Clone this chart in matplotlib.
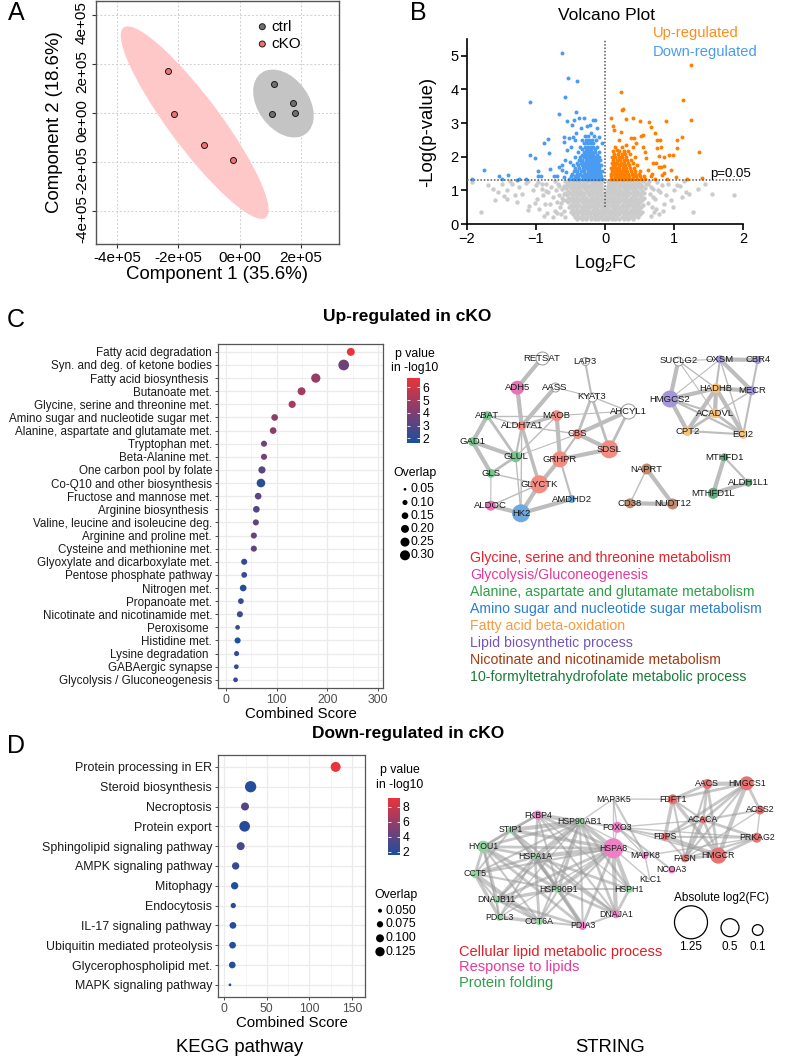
import numpy as np
import matplotlib
matplotlib.use('Agg')
import matplotlib.pyplot as plt
import matplotlib.transforms as mtrans
from matplotlib.patches import Ellipse
from matplotlib.collections import LineCollection
from matplotlib.colors import LinearSegmentedColormap, Normalize
from matplotlib.cm import ScalarMappable

plt.rcParams['font.family'] = ['Liberation Sans', 'DejaVu Sans']
plt.rcParams['mathtext.default'] = 'regular'

# ---------------------------------------------------------------- data
# A: PCA scores
ctrl_pc1 = [1.11e5, 1.73e5, 1.82e5, 1.05e5]
ctrl_pc2 = [1.18e5, 0.38e5, 0.00e5, -0.04e5]
cko_pc1 = [-2.35e5, -2.16e5, -1.15e5, -0.22e5]
cko_pc2 = [1.70e5, -0.05e5, -1.32e5, -1.93e5]

# B: volcano, (log2FC, -log p)
down_pts = [(-0.63, 5.08), (-0.54, 4.33), (-0.41, 4.25), (-0.58, 3.79), (-1.08, 3.62),
            (-0.42, 3.33), (-0.67, 3.27), (-0.83, 2.54), (-0.89, 2.41), (-0.81, 2.10),
            (-1.09, 2.06), (-1.02, 1.95), (-0.97, 1.58), (-0.97, 1.42), (-0.93, 1.42),
            (-1.75, 1.62), (-1.53, 1.42), (-1.41, 1.46), (-1.93, 1.34), (-1.15, 1.34),
            (-1.27, 1.32), (-1.24, 1.33), (-1.50, 1.35), (-0.79, 1.64), (-0.74, 1.42),
            (-0.70, 1.42), (-0.66, 1.69), (-0.63, 1.60), (-0.60, 2.60), (-0.59, 2.45),
            (-0.55, 3.05), (-0.45, 3.10), (-0.38, 3.15), (-0.30, 3.15), (-0.18, 3.10),
            (-0.15, 3.08), (-0.22, 2.95), (-0.26, 2.90), (-0.48, 2.95), (-0.35, 2.85),
            (-0.52, 2.55), (-0.47, 2.60), (-0.44, 2.50), (-0.55, 2.20), (-0.50, 2.30),
            (-0.58, 1.90), (-0.62, 1.75), (-0.56, 1.55), (-0.60, 1.40), (-0.51, 1.85),
            (-0.42, 2.70), (-0.12, 2.85), (-0.08, 2.60), (-0.05, 2.40), (-0.20, 2.70)]
down_rows = [(1.34, [-0.52, -0.47, -0.42, -0.37, -0.32, -0.28, -0.24, -0.20, -0.16, -0.12, -0.08, -0.05]),
             (1.42, [-0.50, -0.44, -0.39, -0.34, -0.30, -0.26, -0.22, -0.18, -0.14, -0.10, -0.06]),
             (1.50, [-0.48, -0.41, -0.36, -0.31, -0.27, -0.23, -0.19, -0.15, -0.11, -0.07]),
             (1.58, [-0.45, -0.40, -0.35, -0.30, -0.25, -0.21, -0.17, -0.13, -0.09, -0.05]),
             (1.66, [-0.43, -0.37, -0.32, -0.28, -0.24, -0.20, -0.16, -0.12, -0.08]),
             (1.74, [-0.46, -0.39, -0.34, -0.29, -0.25, -0.21, -0.17, -0.13, -0.09, -0.06]),
             (1.82, [-0.41, -0.35, -0.30, -0.26, -0.22, -0.18, -0.14, -0.10]),
             (1.90, [-0.38, -0.33, -0.28, -0.24, -0.20, -0.16, -0.12, -0.07]),
             (1.98, [-0.44, -0.36, -0.31, -0.26, -0.22, -0.18, -0.13, -0.09]),
             (2.06, [-0.34, -0.29, -0.25, -0.21, -0.17, -0.12]),
             (2.14, [-0.39, -0.31, -0.27, -0.23, -0.19, -0.14, -0.08]),
             (2.22, [-0.33, -0.28, -0.24, -0.20, -0.15]),
             (2.30, [-0.36, -0.29, -0.25, -0.21, -0.17, -0.11]),
             (2.40, [-0.31, -0.26, -0.22, -0.18]),
             (2.50, [-0.34, -0.27, -0.23, -0.19, -0.13]),
             (2.62, [-0.29, -0.24, -0.16])]
up_pts = [(1.25, 4.72), (0.23, 3.93), (1.13, 3.68), (0.26, 3.43), (0.25, 3.40), (0.08, 3.15),
          (1.24, 3.09), (0.31, 3.12), (0.41, 3.14), (0.50, 3.05), (0.64, 3.04), (0.89, 3.05),
          (0.12, 2.92), (0.13, 2.80), (0.66, 2.88), (0.23, 2.75), (0.55, 2.64), (0.52, 2.63),
          (0.37, 2.56), (0.42, 2.56), (1.12, 2.59), (0.73, 2.72), (0.75, 2.50), (0.79, 2.49),
          (1.05, 2.50), (1.04, 2.25), (0.81, 2.28), (0.76, 2.25), (1.36, 2.15), (0.93, 2.05),
          (0.98, 2.05), (0.85, 2.00), (0.78, 2.02), (0.85, 1.72), (0.78, 1.70), (0.81, 1.69),
          (0.70, 1.80), (0.74, 1.82), (1.03, 1.41), (1.19, 1.33), (1.41, 1.38), (0.66, 1.44),
          (0.68, 1.50), (0.82, 1.45), (0.85, 1.52), (0.60, 1.95), (0.58, 2.15), (0.62, 1.60),
          (0.30, 2.35), (0.45, 2.40), (0.20, 2.50), (0.17, 2.20), (0.55, 2.30), (0.95, 1.60),
          (0.90, 1.35), (0.72, 1.35)]
up_rows = [(1.34, [0.08, 0.12, 0.16, 0.20, 0.24, 0.28, 0.32, 0.36, 0.41, 0.46, 0.52, 0.58]),
           (1.42, [0.09, 0.14, 0.18, 0.22, 0.26, 0.30, 0.35, 0.40, 0.45, 0.50, 0.56]),
           (1.50, [0.08, 0.12, 0.16, 0.21, 0.25, 0.29, 0.34, 0.39, 0.44, 0.49]),
           (1.58, [0.10, 0.14, 0.19, 0.23, 0.27, 0.32, 0.37, 0.43, 0.51]),
           (1.66, [0.09, 0.13, 0.17, 0.21, 0.26, 0.31, 0.36, 0.42]),
           (1.74, [0.11, 0.15, 0.20, 0.24, 0.29, 0.35, 0.47]),
           (1.82, [0.10, 0.14, 0.18, 0.23, 0.28, 0.33, 0.40]),
           (1.90, [0.12, 0.17, 0.22, 0.27, 0.32, 0.38]),
           (1.98, [0.10, 0.15, 0.20, 0.25, 0.31, 0.44]),
           (2.08, [0.13, 0.19, 0.24, 0.29, 0.36]),
           (2.18, [0.11, 0.21, 0.27, 0.34]),
           (2.28, [0.15, 0.24, 0.40])]
ns_pts = [(-1.93, 1.25), (-1.80, 0.35), (-1.70, 1.15), (-1.62, 1.05), (-1.55, 0.95), (-1.50, 1.20),
          (-1.42, 1.00), (-1.35, 1.18), (-1.30, 0.85), (-1.25, 1.10), (-1.20, 0.90), (-1.15, 1.22),
          (-1.10, 0.55), (-1.05, 1.00), (-1.00, 1.15), (-0.98, 0.75), (-0.95, 0.45), (-0.92, 1.05),
          (-0.90, 0.85), (-0.88, 0.25), (-0.85, 1.20), (-0.82, 0.95), (-0.80, 0.60), (-0.78, 1.10),
          (-0.75, 0.80), (-0.73, 0.40), (-0.71, 1.00), (-0.70, 0.65), (-0.68, 1.20), (-0.66, 0.85),
          (-0.65, 0.50), (-0.64, 0.30), (-0.62, 1.05), (-0.61, 0.70), (-0.60, 0.90), (-0.59, 0.40),
          (-0.58, 0.20), (-1.47, 0.82), (-1.38, 1.27), (-1.12, 1.27), (-0.97, 1.25), (-0.87, 0.60),
          (-0.76, 0.20), (-1.27, 0.65), (-1.60, 0.70), (-1.42, 0.73), (-1.11, 0.43),
          (-0.72, 1.28), (-0.69, 0.33), (-0.67, 1.12), (-0.64, 0.62), (-0.62, 0.78), (-0.84, 0.32),
          (-0.91, 1.18), (-1.02, 0.62), (-0.86, 0.98),
          (0.62, 1.20), (0.65, 0.90), (0.68, 0.50), (0.70, 1.05), (0.72, 0.75), (0.75, 1.25),
          (0.78, 0.30), (0.80, 0.95), (0.83, 1.15), (0.86, 0.60), (0.88, 0.85), (0.92, 1.20),
          (0.95, 0.70), (1.00, 1.00), (1.05, 1.15), (1.08, 1.12), (1.12, 0.80), (1.18, 0.95),
          (1.22, 0.90), (1.28, 0.35), (1.35, 1.05), (1.45, 1.20), (1.55, 0.90), (1.87, 0.85),
          (0.66, 0.25), (0.74, 0.45), (0.64, 1.28), (0.98, 0.50), (1.15, 1.27),
          (0.63, 0.62), (0.66, 1.10), (0.69, 0.80), (0.71, 0.35), (0.77, 1.02), (0.84, 0.40)]
ns_rows = [(1.27, [-0.58, -0.52, -0.47, -0.41, -0.36, -0.30, -0.25, -0.19, -0.14, -0.09, -0.05, 0.05, 0.09, 0.14, 0.19, 0.25, 0.31, 0.36, 0.42, 0.48, 0.55]),
           (1.20, [-0.55, -0.49, -0.43, -0.38, -0.32, -0.27, -0.21, -0.16, -0.11, -0.06, 0.06, 0.11, 0.16, 0.22, 0.27, 0.33, 0.39, 0.45, 0.51, 0.60]),
           (1.13, [-0.60, -0.53, -0.46, -0.40, -0.34, -0.29, -0.23, -0.18, -0.12, -0.07, 0.04, 0.08, 0.13, 0.19, 0.24, 0.30, 0.35, 0.41, 0.47, 0.53]),
           (1.06, [-0.57, -0.50, -0.44, -0.37, -0.31, -0.26, -0.20, -0.14, -0.09, -0.04, 0.05, 0.10, 0.15, 0.21, 0.27, 0.32, 0.38, 0.44, 0.50, 0.58]),
           (0.99, [-0.54, -0.47, -0.41, -0.35, -0.28, -0.22, -0.17, -0.12, -0.06, 0.03, 0.07, 0.12, 0.17, 0.23, 0.29, 0.34, 0.40, 0.46, 0.54]),
           (0.92, [-0.58, -0.51, -0.44, -0.38, -0.32, -0.25, -0.19, -0.13, -0.08, -0.03, 0.04, 0.09, 0.14, 0.20, 0.25, 0.31, 0.37, 0.43, 0.49, 0.56]),
           (0.85, [-0.55, -0.48, -0.42, -0.36, -0.30, -0.23, -0.17, -0.11, -0.06, 0.02, 0.06, 0.11, 0.17, 0.22, 0.28, 0.34, 0.40, 0.46, 0.52]),
           (0.78, [-0.52, -0.46, -0.40, -0.33, -0.27, -0.21, -0.15, -0.10, -0.04, 0.03, 0.08, 0.13, 0.19, 0.25, 0.31, 0.37, 0.43, 0.50, 0.57]),
           (0.71, [-0.56, -0.49, -0.43, -0.37, -0.31, -0.25, -0.19, -0.13, -0.07, -0.02, 0.02, 0.07, 0.12, 0.18, 0.23, 0.29, 0.35, 0.41, 0.47, 0.53]),
           (0.64, [-0.53, -0.47, -0.40, -0.34, -0.28, -0.22, -0.16, -0.10, -0.05, 0.01, 0.05, 0.10, 0.15, 0.21, 0.27, 0.33, 0.39, 0.45, 0.51]),
           (0.57, [-0.50, -0.44, -0.38, -0.31, -0.25, -0.19, -0.13, -0.08, -0.03, 0.03, 0.08, 0.13, 0.18, 0.24, 0.30, 0.36, 0.42, 0.48, 0.55]),
           (0.50, [-0.52, -0.46, -0.40, -0.34, -0.28, -0.22, -0.16, -0.11, -0.05, 0.00, 0.05, 0.11, 0.16, 0.22, 0.28, 0.34, 0.40, 0.46, 0.52]),
           (0.43, [-0.48, -0.42, -0.36, -0.30, -0.24, -0.18, -0.12, -0.07, -0.02, 0.03, 0.08, 0.14, 0.19, 0.25, 0.31, 0.37, 0.43, 0.49]),
           (0.36, [-0.50, -0.44, -0.38, -0.32, -0.26, -0.20, -0.14, -0.09, -0.04, 0.01, 0.06, 0.11, 0.17, 0.23, 0.29, 0.35, 0.41, 0.47, 0.54]),
           (0.29, [-0.46, -0.40, -0.34, -0.28, -0.22, -0.16, -0.11, -0.06, -0.01, 0.04, 0.09, 0.15, 0.21, 0.27, 0.33, 0.39, 0.45, 0.51]),
           (0.22, [-0.44, -0.38, -0.32, -0.26, -0.20, -0.14, -0.09, -0.04, 0.01, 0.06, 0.12, 0.18, 0.24, 0.30, 0.36, 0.42, 0.48]),
           (0.16, [-0.40, -0.33, -0.27, -0.21, -0.15, -0.10, -0.05, 0.00, 0.05, 0.10, 0.15, 0.21, 0.27, 0.33, 0.40])]

# C: KEGG, up-regulated
up_terms = ['Fatty acid degradation', 'Syn. and deg. of ketone bodies', 'Fatty acid biosynthesis ',
            'Butanoate met.', 'Glycine, serine and threonine met.', 'Amino sugar and nucleotide sugar met.',
            'Alanine, aspartate and glutamate met.', 'Tryptophan met.', 'Beta-Alanine met.',
            'One carbon pool by folate', 'Co-Q10 and other biosynthesis', 'Fructose and mannose met.',
            'Arginine biosynthesis ', 'Valine, leucine and isoleucine deg.', 'Arginine and proline met.',
            'Cysteine and methionine met.', 'Glyoxylate and dicarboxylate met.', 'Pentose phosphate pathway',
            'Nitrogen met.', 'Propanoate met.', 'Nicotinate and nicotinamide met.', 'Peroxisome ',
            'Histidine met.', 'Lysine degradation ', 'GABAergic synapse', 'Glycolysis / Gluconeogenesis']
up_score = [246, 232, 177, 149, 130.5, 96, 93, 75, 75, 71, 69, 63.5, 60, 59, 55, 55,
            36, 36, 34, 29.5, 27.5, 23, 23, 21, 20.5, 19]
up_overlap = [0.20, 0.34, 0.26, 0.20, 0.17, 0.15, 0.15, 0.13, 0.13, 0.17, 0.23, 0.15, 0.15,
              0.13, 0.13, 0.13, 0.13, 0.12, 0.15, 0.12, 0.13, 0.09, 0.13, 0.10, 0.09, 0.09]
up_logp = [6.72, 3.6, 4.6, 4.9, 5.1, 4.4, 4.3, 3.8, 3.9, 3.1, 2.0, 3.2, 3.0, 3.4, 3.5, 3.4,
           2.2, 2.3, 1.8, 2.3, 2.5, 2.6, 1.64, 2.2, 2.3, 2.2]

# D: KEGG, down-regulated
down_terms = ['Protein processing in ER', 'Steroid biosynthesis', 'Necroptosis', 'Protein export',
              'Sphingolipid signaling pathway', 'AMPK signaling pathway', 'Mitophagy', 'Endocytosis',
              'IL-17 signaling pathway', 'Ubiquitin mediated proteolysis', 'Glycerophospholipid met.',
              'MAPK signaling pathway']
down_score = [131, 31, 24.4, 24, 19.3, 13.4, 12.2, 10.6, 10.2, 9.8, 9.4, 6.7]
down_overlap = [0.139, 0.169, 0.101, 0.155, 0.101, 0.090, 0.090, 0.063, 0.081, 0.081, 0.081, 0.041]
down_logp = [9.15, 1.9, 3.7, 2.0, 3.1, 2.5, 1.8, 2.2, 1.9, 1.9, 1.8, 1.56]

# STRING networks: node -> (x, y, diameter, group) in figure pixels
GLY, GLYCO, ALA, AMINO, FAO, LIPID, NICO, FORMYL, NONE = range(9)
net_up = {
    'RETSAT': (541.7, 358.3, 13, NONE), 'LAP3': (585, 361, 8, NONE), 'SUCLG2': (678.3, 360.7, 9, NONE),
    'OXSM': (720, 359.3, 8, LIPID), 'CBR4': (757.7, 360, 8, LIPID), 'ADH5': (517.3, 387.7, 14, GLYCO),
    'AASS': (555, 387.3, 9, NONE), 'KYAT3': (591.7, 396.7, 9, NONE), 'HADHB': (716, 388.3, 10, FAO),
    'MECR': (751.7, 390.7, 9, LIPID), 'HMGCS2': (670, 399, 17, LIPID), 'ABAT': (487.3, 415.7, 9, ALA),
    'MAOB': (556.7, 415.7, 11, GLY), 'AHCYL1': (628.3, 411, 15, NONE), 'ACADVL': (715, 413.3, 10, FAO),
    'ALDH7A1': (521.7, 426, 9, GLY), 'CBS': (577.7, 434, 10, GLY), 'CPT2': (687.3, 431, 10, FAO),
    'ECI2': (743.3, 434.3, 9, FAO), 'GAD1': (472.7, 441.7, 9, ALA), 'SDSL': (609.3, 449.3, 18, GLY),
    'GLUL': (515.7, 456.7, 11, ALA), 'GRHPR': (560, 459.3, 16, GLY), 'MTHFD1': (724.3, 457.3, 8, FORMYL),
    'NAPRT': (646.7, 469, 11, NICO), 'GLS': (491, 473.3, 9, ALA), 'ALDH1L1': (748.3, 482.7, 8, FORMYL),
    'GLYCTK': (539.3, 484.3, 18, GLY), 'MTHFD1L': (713.3, 493.3, 11, FORMYL),
    'AMDHD2': (571.7, 499, 8, AMINO), 'CD38': (630, 503.3, 10, NICO), 'NUDT12': (672.7, 504, 11, NICO),
    'ALDOC': (490.7, 505.7, 10, GLYCO), 'HK2': (521, 513.3, 18, AMINO)}
edges_up = [('RETSAT', 'ADH5', 3), ('ADH5', 'ALDH7A1', 3), ('AASS', 'ALDH7A1', 3), ('AASS', 'KYAT3', 0.8),
            ('LAP3', 'KYAT3', 1.5), ('KYAT3', 'CBS', 2), ('KYAT3', 'SDSL', 2), ('KYAT3', 'AHCYL1', 1),
            ('AHCYL1', 'CBS', 3), ('AHCYL1', 'SDSL', 2), ('CBS', 'SDSL', 3), ('ALDH7A1', 'MAOB', 2.5),
            ('ABAT', 'MAOB', 1), ('ABAT', 'ALDH7A1', 1), ('ABAT', 'GAD1', 3), ('ABAT', 'GLUL', 2),
            ('GAD1', 'GLS', 3), ('GAD1', 'GLUL', 3), ('GLUL', 'GLS', 2), ('ALDH7A1', 'GLUL', 1.5),
            ('ALDH7A1', 'GLYCTK', 2.5), ('ALDH7A1', 'HK2', 1), ('ALDH7A1', 'CBS', 1), ('MAOB', 'GRHPR', 3),
            ('MAOB', 'GLUL', 1), ('CBS', 'GRHPR', 1.5), ('GRHPR', 'SDSL', 3), ('GRHPR', 'GLYCTK', 3),
            ('GRHPR', 'AMDHD2', 1.5), ('GLYCTK', 'HK2', 3), ('HK2', 'AMDHD2', 3), ('HK2', 'ALDOC', 3),
            ('ALDOC', 'GLS', 0.8), ('GLUL', 'HK2', 1), ('GLS', 'GLYCTK', 1), ('ALDOC', 'GLYCTK', 1),
            ('GLUL', 'CBS', 0.8), ('MAOB', 'AHCYL1', 0.8),
            ('SUCLG2', 'HMGCS2', 3), ('SUCLG2', 'HADHB', 1), ('SUCLG2', 'OXSM', 0.8), ('SUCLG2', 'ACADVL', 0.8),
            ('OXSM', 'CBR4', 3), ('OXSM', 'MECR', 3), ('OXSM', 'HADHB', 1.5), ('OXSM', 'ECI2', 1),
            ('OXSM', 'HMGCS2', 0.8), ('CBR4', 'MECR', 1.5), ('HMGCS2', 'HADHB', 3), ('HMGCS2', 'ACADVL', 1.5),
            ('HMGCS2', 'CPT2', 3), ('HMGCS2', 'ECI2', 1.5), ('HADHB', 'MECR', 3), ('HADHB', 'ACADVL', 3),
            ('HADHB', 'CPT2', 3), ('HADHB', 'ECI2', 3), ('ACADVL', 'CPT2', 2), ('ACADVL', 'ECI2', 2),
            ('CPT2', 'ECI2', 1.5), ('MECR', 'ECI2', 1.5), ('MECR', 'ACADVL', 1),
            ('MTHFD1', 'MTHFD1L', 3), ('MTHFD1L', 'ALDH1L1', 3), ('MTHFD1', 'ALDH1L1', 1.5),
            ('NAPRT', 'NUDT12', 3), ('NAPRT', 'CD38', 1), ('CD38', 'NUDT12', 3)]
up_groups = ['Glycine, serine and threonine metabolism', 'Glycolysis/Gluconeogenesis',
             'Alanine, aspartate and glutamate metabolism', 'Amino sugar and nucleotide sugar metabolism',
             'Fatty acid beta-oxidation', 'Lipid biosynthetic process',
             'Nicotinate and nicotinamide metabolism', '10-formyltetrahydrofolate metabolic process']

LIP, RESP, FOLD, BARE = range(4)
net_down = {
    'AACS': (707.3, 784, 10, LIP), 'HMGCS1': (746.7, 783.3, 14, LIP), 'MAP3K5': (613.3, 799, 0, BARE),
    'FDFT1': (672.7, 799.3, 10, LIP), 'ACSS2': (760, 810, 9, LIP), 'FKBP4': (537.7, 815, 9, RESP),
    'HSP90AB1': (580, 821.7, 8, FOLD), 'FOXO3': (617.3, 827.3, 11, RESP), 'ACACA': (703.3, 820, 7, LIP),
    'STIP1': (510.7, 830, 7, FOLD), 'FDPS': (665, 836.7, 8, LIP), 'PRKAG2': (756.7, 837.7, 10, LIP),
    'HYOU1': (483.3, 846.7, 12, FOLD), 'HSPA8': (613.3, 848.3, 20, RESP), 'MAPK8': (645, 855.7, 7, RESP),
    'HMGCR': (718.3, 855.7, 16, LIP), 'HSPA1A': (535, 856.7, 6, FOLD), 'FASN': (685, 858.3, 8, LIP),
    'NCOA3': (671.7, 870, 7, RESP), 'CCT5': (475, 874, 8, FOLD), 'KLC1': (650, 880, 0, BARE),
    'HSP90B1': (558.3, 889.3, 7, FOLD), 'HSPH1': (629.3, 889.3, 7, FOLD), 'DNAJB11': (496.7, 900, 7, FOLD),
    'DNAJA1': (616, 914.3, 8, RESP), 'PDCL3': (499.3, 917.3, 7, FOLD), 'CCT6A': (539.3, 921.7, 7, FOLD),
    'PDIA3': (582.7, 926, 8, RESP)}
edges_down = [('HSPA8', 'HSP90AB1', 3), ('HSPA8', 'HSPA1A', 3), ('HSPA8', 'STIP1', 2.5), ('HSPA8', 'FKBP4', 2),
              ('HSPA8', 'HYOU1', 2), ('HSPA8', 'HSP90B1', 3), ('HSPA8', 'HSPH1', 3), ('HSPA8', 'DNAJA1', 3),
              ('HSPA8', 'DNAJB11', 2), ('HSPA8', 'PDIA3', 2), ('HSPA8', 'CCT6A', 1.5), ('HSPA8', 'CCT5', 1.5),
              ('HSPA8', 'FOXO3', 1), ('HSPA8', 'MAPK8', 1), ('HSPA8', 'KLC1', 1), ('HSPA8', 'MAP3K5', 1),
              ('HSPA8', 'PDCL3', 1), ('HSP90AB1', 'FKBP4', 3), ('HSP90AB1', 'STIP1', 3), ('HSP90AB1', 'HSPA1A', 3),
              ('HSP90AB1', 'HYOU1', 2), ('HSP90AB1', 'HSP90B1', 2.5), ('HSP90AB1', 'DNAJA1', 2),
              ('HSP90AB1', 'HSPH1', 2), ('HSP90AB1', 'CCT5', 1.5), ('HSP90AB1', 'CCT6A', 1.5),
              ('HSP90AB1', 'PDIA3', 1.5), ('HSP90AB1', 'DNAJB11', 1.5), ('HSP90AB1', 'FOXO3', 1.5),
              ('HSP90AB1', 'MAP3K5', 1), ('HSP90AB1', 'MAPK8', 1), ('HSP90AB1', 'PDCL3', 1),
              ('HSPA1A', 'STIP1', 3), ('HSPA1A', 'FKBP4', 2), ('HSPA1A', 'HYOU1', 2), ('HSPA1A', 'HSP90B1', 2.5),
              ('HSPA1A', 'DNAJB11', 2), ('HSPA1A', 'DNAJA1', 2), ('HSPA1A', 'HSPH1', 2), ('HSPA1A', 'CCT5', 2),
              ('HSPA1A', 'CCT6A', 2), ('HSPA1A', 'PDIA3', 2), ('HSPA1A', 'PDCL3', 1.5),
              ('HYOU1', 'STIP1', 2), ('HYOU1', 'CCT5', 2), ('HYOU1', 'HSP90B1', 2.5), ('HYOU1', 'DNAJB11', 2.5),
              ('HYOU1', 'PDIA3', 2), ('HYOU1', 'CCT6A', 1.5), ('HYOU1', 'FKBP4', 1.5), ('HYOU1', 'PDCL3', 1),
              ('CCT5', 'CCT6A', 3), ('CCT5', 'PDCL3', 2.5), ('CCT5', 'DNAJB11', 1.5), ('CCT5', 'STIP1', 1.5),
              ('CCT5', 'HSP90B1', 1.5), ('HSP90B1', 'PDIA3', 3), ('HSP90B1', 'DNAJB11', 2.5),
              ('HSP90B1', 'CCT6A', 1.5), ('HSP90B1', 'DNAJA1', 2), ('HSP90B1', 'HSPH1', 1.5),
              ('HSP90B1', 'STIP1', 1.5), ('HSP90B1', 'FKBP4', 1.5), ('DNAJB11', 'PDIA3', 2),
              ('DNAJB11', 'CCT6A', 1.5), ('DNAJB11', 'PDCL3', 1.5), ('PDCL3', 'CCT6A', 2.5),
              ('CCT6A', 'PDIA3', 1.5), ('PDIA3', 'DNAJA1', 1.5), ('DNAJA1', 'HSPH1', 2), ('STIP1', 'FKBP4', 2),
              ('STIP1', 'DNAJA1', 1.5), ('FKBP4', 'DNAJA1', 1.5), ('FKBP4', 'HSPH1', 1),
              ('FOXO3', 'MAPK8', 1), ('FOXO3', 'MAP3K5', 1), ('MAP3K5', 'MAPK8', 1.5), ('MAPK8', 'KLC1', 1),
              ('FOXO3', 'NCOA3', 1.5), ('FOXO3', 'FDPS', 1.5), ('FOXO3', 'PRKAG2', 1), ('FOXO3', 'ACACA', 1),
              ('MAP3K5', 'FDFT1', 1), ('FOXO3', 'HMGCR', 1), ('MAPK8', 'PRKAG2', 1),
              ('AACS', 'HMGCS1', 3), ('AACS', 'FDFT1', 2), ('AACS', 'ACACA', 2), ('AACS', 'FASN', 1.5),
              ('AACS', 'HMGCR', 2), ('HMGCS1', 'FDFT1', 2), ('HMGCS1', 'ACSS2', 2), ('HMGCS1', 'HMGCR', 3),
              ('HMGCS1', 'FDPS', 2), ('HMGCS1', 'ACACA', 2), ('HMGCS1', 'FASN', 1.5), ('FDFT1', 'FDPS', 2.5),
              ('FDFT1', 'HMGCR', 2.5), ('FDFT1', 'FASN', 1.5), ('FDFT1', 'ACACA', 1.5), ('ACACA', 'FASN', 3),
              ('ACACA', 'PRKAG2', 2), ('ACACA', 'ACSS2', 1.5), ('ACACA', 'FDPS', 1.5), ('ACACA', 'HMGCR', 2),
              ('FDPS', 'HMGCR', 3), ('FDPS', 'FASN', 1.5), ('FDPS', 'PRKAG2', 1.5), ('PRKAG2', 'HMGCR', 2),
              ('PRKAG2', 'FASN', 1.5), ('ACSS2', 'FASN', 1), ('HMGCR', 'FASN', 2), ('ACSS2', 'PRKAG2', 1)]
down_groups = ['Cellular lipid metabolic process', 'Response to lipids', 'Protein folding']
fc_legend_vals = ['1.25', '0.5', '0.1']

# ---------------------------------------------------------------- styles
up_node_cols = ['#F28C82', '#E874B8', '#78C58F', '#6FA8DC', '#F9C27A', '#A596D8', '#C08A6C', '#5DAA7A', 'white']
up_text_cols = ['#E8202A', '#E6399B', '#2E9E48', '#2A7FCC', '#F89A3C', '#7556B5', '#A23B12', '#1B7A3B']
down_node_cols = ['#E57373', '#EE80C6', '#93D3A2', 'none']
down_text_cols = ['#E41E26', '#E6399B', '#2E9E48']
cmap = LinearSegmentedColormap.from_list('bp', ['#1B4F9F', '#853E6E', '#EA333A'])

W, H = 790, 1059
fig = plt.figure(figsize=(W / 100, H / 100), dpi=100)


def px_axes(l, t, r, b):
    return fig.add_axes([l / W, 1 - b / H, (r - l) / W, (b - t) / H])


def pt2(d_px):
    return (0.72 * d_px) ** 2


ov = px_axes(0, 0, W, H)
ov.set_xlim(0, W)
ov.set_ylim(H, 0)
ov.axis('off')
ov.set_zorder(10)

# ---------------------------------------------------------------- A: PCA
axA = px_axes(96, 1, 339, 244)
k95 = np.sqrt(5.991)
for xs, ys, fill, dot in [(ctrl_pc1, ctrl_pc2, '#C4C4C4', '#707070'),
                          (cko_pc1, cko_pc2, '#FFC8C8', '#F37070')]:
    pts = np.column_stack([xs, ys])
    vals, vecs = np.linalg.eigh(np.cov(pts.T))
    ang = np.degrees(np.arctan2(vecs[1, 1], vecs[0, 1]))
    axA.add_patch(Ellipse(pts.mean(axis=0), 2 * k95 * np.sqrt(vals[1]), 2 * k95 * np.sqrt(vals[0]),
                          angle=ang, facecolor=fill, edgecolor='none', zorder=1))
    axA.scatter(xs, ys, s=pt2(6), c=dot, edgecolors='#1A1A1A', linewidths=0.7, zorder=3)
axA.set_xlim(-4.69e5, 3.24e5)
axA.set_ylim(-5.35e5, 4.56e5)
xt = [-4e5, -2e5, 0, 2e5]
yt = [-4e5, -2e5, 0, 2e5, 4e5]
axA.set_xticks(xt, [f'{v:.0e}' for v in xt])
axA.set_yticks(yt, [f'{v:.0e}' for v in yt], rotation=90, va='center')
axA.tick_params(labelsize=11, length=3, width=0.8, color='#333333', pad=2)
# R draws these parallel labels a little below their ticks
shift = mtrans.ScaledTranslation(0, -0.08, fig.dpi_scale_trans)
for lab in axA.get_yticklabels():
    lab.set_transform(lab.get_transform() + shift)
axA.grid(True, ls=(0, (2, 2)), color='#CFCFCF', lw=0.7)
axA.set_axisbelow(True)
for s in axA.spines.values():
    s.set_color('#555555')
    s.set_linewidth(1.0)
axA.set_xlabel('Component 1 (35.6%)', fontsize=13.4, labelpad=1)
axA.set_ylabel('Component 2 (18.6%)', fontsize=13.4, labelpad=9)
ov.scatter([262.3, 262.3], [26.7, 44], s=pt2(6), c=['#707070', '#F37070'],
           edgecolors='#1A1A1A', linewidths=0.7)
ov.text(271.5, 26.7, 'ctrl', fontsize=11, va='center')
ov.text(271.5, 44, 'cKO', fontsize=11, va='center')


# ---------------------------------------------------------------- B: volcano
def unpack(pts, rows):
    xs = [p[0] for p in pts] + [x for y, r in rows for x in r]
    ys = [p[1] for p in pts] + [y for y, r in rows for x in r]
    return xs, ys


axB = px_axes(467, 39, 743, 224)
nx, ny = unpack(ns_pts, ns_rows)
dx, dy = unpack(down_pts, down_rows)
ux, uy = unpack(up_pts, up_rows)
axB.scatter(nx, ny, s=10, c='#CBCBCB', lw=0, zorder=1)
axB.scatter(dx, dy, s=8, c='#4A9BF2', lw=0, zorder=2)
axB.scatter(ux, uy, s=8, c='#FF8000', lw=0, zorder=2)
axB.axhline(1.3, color='#555555', lw=1.1, ls=(0, (1, 1.2)), zorder=3)
axB.axvline(0, ymin=0.5 / 5.5, color='#555555', lw=1.1, ls=(0, (1, 1.2)), zorder=3)
axB.set_xlim(-2, 2)
axB.set_ylim(0, 5.5)
axB.set_xticks([-2, -1, 0, 1, 2])
axB.set_yticks([0, 1, 2, 3, 4, 5])
for side in ['top', 'right']:
    axB.spines[side].set_visible(False)
for side in ['left', 'bottom']:
    axB.spines[side].set_linewidth(1.2)
axB.tick_params(labelsize=10.5, length=4, width=1.2, pad=2)
axB.set_xlabel('Log$_2$FC', fontsize=13, labelpad=5)
axB.set_ylabel('-Log(p-value)', fontsize=13.3, labelpad=10)
ov.text(607, 15, 'Volcano Plot', fontsize=12.5, ha='center', va='center')
ov.text(653, 33.3, 'Up-regulated', fontsize=10.6, color='#FF8C1A', va='center')
ov.text(653, 52, 'Down-regulated', fontsize=10.6, color='#4A9BF2', va='center')
ov.text(710, 174, 'p=0.05', fontsize=9.5, va='center')


# ---------------------------------------------------------------- C / D: KEGG dot plots
def dot_panel(box, terms, score, overlap, logp, xlim, xticks, xminor, size_a, size_b,
              cbox, cticks, ptxt, olap_txt, olap_x, olap_rows, olap_vals, olap_fmt, label_fs):
    ax = px_axes(*box)
    n = len(terms)
    ypos = np.arange(n, 0, -1)
    norm = Normalize(min(logp), max(logp))
    sizes = [0.5184 * (size_a + size_b * v) for v in overlap]
    ax.scatter(score, ypos, s=sizes, c=logp, cmap=cmap, norm=norm, lw=0, zorder=3)
    ax.set_xlim(*xlim)
    ax.set_ylim(0.4, n + 0.6)
    ax.set_xticks(xticks)
    ax.set_xticks(xminor, minor=True)
    ax.set_yticks(ypos, terms)
    ax.grid(True, which='major', color='#EBEBEB', lw=0.9)
    ax.grid(True, which='minor', axis='x', color='#F3F3F3', lw=0.6)
    ax.set_axisbelow(True)
    ax.tick_params(axis='y', labelsize=label_fs, length=2.5, width=0.6, color='#333333', pad=2,
                   labelcolor='#1A1A1A')
    ax.tick_params(axis='x', labelsize=8.8, length=2.5, width=0.6, color='#333333', pad=2,
                   labelcolor='#4D4D4D')
    ax.tick_params(axis='x', which='minor', length=0)
    for s in ax.spines.values():
        s.set_color('#555555')
        s.set_linewidth(0.9)
    ax.set_xlabel('Combined Score', fontsize=10.8, labelpad=1)
    cax = px_axes(*cbox)
    cb = fig.colorbar(ScalarMappable(norm=norm, cmap=cmap), cax=cax, ticks=cticks)
    cb.outline.set_visible(False)
    cax.tick_params(labelsize=8.8, length=2.5, width=0.6, color='white', direction='in',
                    left=True, right=True, pad=2)
    ov.text(ptxt[0], ptxt[1], 'p value', fontsize=8.8, ha='center', va='center')
    ov.text(ptxt[0], ptxt[1] + 15, 'in -log10', fontsize=8.8, ha='center', va='center')
    ov.text(olap_txt[0], olap_txt[1], 'Overlap', fontsize=8.8, va='center')
    ov.scatter([olap_x] * len(olap_vals), olap_rows,
               s=[0.5184 * (size_a + size_b * v) for v in olap_vals], c='black', lw=0)
    for yy, v in zip(olap_rows, olap_vals):
        ov.text(olap_x + 5.5, yy, olap_fmt.format(v), fontsize=8.8, va='center')
    return ax


dot_panel((218.3, 344, 383.3, 687.7), up_terms, up_score, up_overlap, up_logp,
          (-15, 310), [0, 100, 200, 300], [50, 150, 250], -11.2, 371,
          (407, 378, 420, 443), [2, 3, 4, 5, 6], (415, 353.5), (393, 473), 405,
          [489.3, 502.5, 515.7, 528.9, 542.1, 555.3], [0.05, 0.10, 0.15, 0.20, 0.25, 0.30], '{:.2f}', 8.4)
dot_panel((218.3, 755, 365, 996.7), down_terms, down_score, down_overlap, down_logp,
          (-7, 165.5), [0, 50, 100, 150], [25, 75, 125], -31, 940,
          (388, 798, 400, 855), [2, 4, 6, 8], (400, 770), (374, 895), 380,
          [910.7, 924.3, 938.3, 951.7], [0.050, 0.075, 0.100, 0.125], '{:.3f}', 8.9)


# ---------------------------------------------------------------- networks
def draw_net(nodes, edges, node_cols, ecol, ealpha, fs, edge_node_col):
    segs = [[nodes[a][:2], nodes[b][:2]] for a, b, w in edges]
    ov.add_collection(LineCollection(segs, linewidths=[w for a, b, w in edges],
                                     colors=ecol, alpha=ealpha, zorder=2))
    for name, (x, y, d, g) in nodes.items():
        if d > 0:
            fc = node_cols[g]
            ec = edge_node_col if fc == 'white' else 'none'
            ov.scatter([x], [y], s=pt2(d), c=fc, edgecolors=ec, linewidths=0.7, zorder=3)
        ov.text(x, y, name, fontsize=fs, ha='center', va='center', color='#1A1A1A', zorder=4)


draw_net(net_up, edges_up, up_node_cols, '#BDBDBD', 1.0, 6.8, '#999999')
for i, (lab, col) in enumerate(zip(up_groups, up_text_cols)):
    ov.text(470, 558.3 + i * 16.9, lab, fontsize=10.2, color=col, va='center')

draw_net(net_down, edges_down, down_node_cols, '#9A9A9A', 0.55, 6.3, '#999999')
for i, (lab, col) in enumerate(zip(down_groups, down_text_cols)):
    ov.text(459.3, 951.7 + i * 15.5, lab, fontsize=10.5, color=col, va='center')
ov.text(722, 898, 'Absolute log2(FC)', fontsize=8.5, ha='center', va='center')
for (cx, cy, d), lab in zip([(691, 922.3, 33), (730, 927.7, 18), (757.7, 930, 10.7)], fc_legend_vals):
    ov.scatter([cx], [cy], s=pt2(d), facecolors='none', edgecolors='black', linewidths=0.9)
    ov.text(cx, 947.3, lab, fontsize=8.5, ha='center', va='center')

# ---------------------------------------------------------------- titles and panel letters
ov.text(407.5, 316.7, 'Up-regulated in cKO', fontsize=12.5, fontweight='bold', ha='center', va='center')
ov.text(408, 733.3, 'Down-regulated in cKO', fontsize=12.5, fontweight='bold', ha='center', va='center')
ov.text(240, 1047, 'KEGG pathway', fontsize=13.3, ha='center', va='center')
ov.text(610, 1047, 'STRING', fontsize=13.3, ha='center', va='center')
for letter, x, y in [('A', 16, 13), ('B', 418, 13), ('C', 16, 320), ('D', 16, 746)]:
    ov.text(x, y, letter, fontsize=18, ha='center', va='center')

fig.savefig('out.png', dpi=100)
